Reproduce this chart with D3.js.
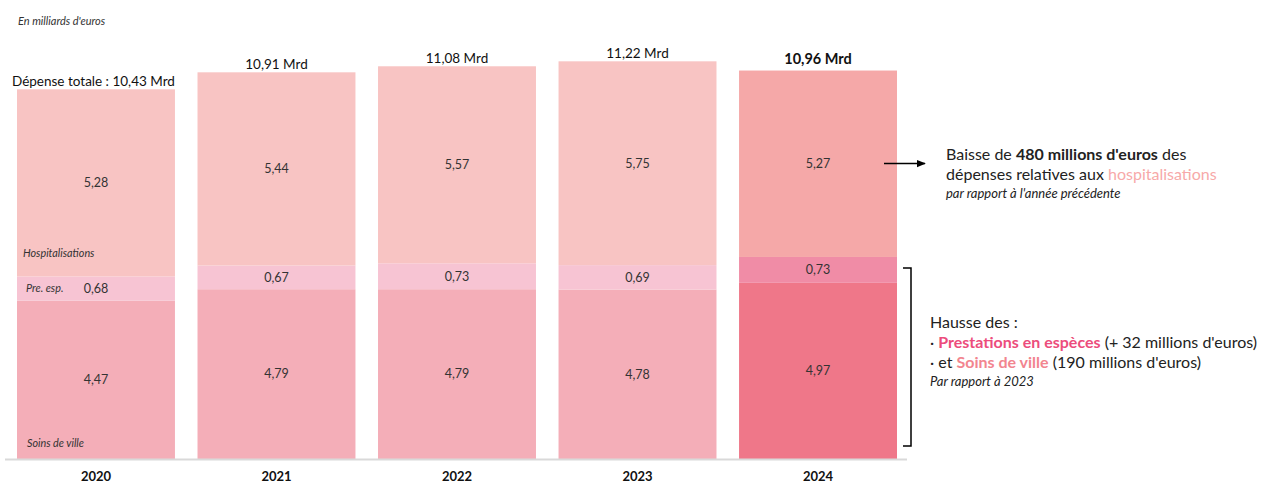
<!DOCTYPE html>
<html>
<head>
<meta charset="utf-8">
<script src="https://cdn.jsdelivr.net/npm/d3@7"></script>
<style>
  body { margin: 0; background: #fff; }
  svg { font-family: Lato, "Open Sans", sans-serif; }
</style>
</head>
<body>
<svg width="1261" height="484"></svg>
<script>
// data, in milliards d'euros
const years = ["2020", "2021", "2022", "2023", "2024"];
const soinsVille = [4.47, 4.79, 4.79, 4.78, 4.97];
const prestEsp = [0.68, 0.67, 0.73, 0.69, 0.73];
const hospit = [5.28, 5.44, 5.57, 5.75, 5.27];
const totals = [10.43, 10.91, 11.08, 11.22, 10.96];

const fr = v => v.toFixed(2).replace(".", ",");

const svg = d3.select("svg");

const x = d3.scaleBand().domain(years).range([17, 897]).paddingInner(0.125).paddingOuter(0);
const y = d3.scaleLinear().domain([0, 12.95]).range([459, 0]);

// couleurs : années normales puis 2024 en plus foncé
const colors = {
  soins: ["#F4AEB8", "#EF7789"],
  prest: ["#F7C4D3", "#F08CA6"],
  hosp: ["#F8C4C3", "#F5A8A8"]
};

const rows = years.map((yr, i) => ({
  year: yr, i: i, last: i === years.length - 1,
  segs: [
    {key: "soins", v0: 0, v1: soinsVille[i], val: soinsVille[i]},
    {key: "prest", v0: soinsVille[i], v1: soinsVille[i] + prestEsp[i], val: prestEsp[i]},
    {key: "hosp", v0: soinsVille[i] + prestEsp[i], v1: totals[i], val: hospit[i]}
  ]
}));

const barG = svg.append("g").selectAll("g")
  .data(rows)
  .join("g")
  .attr("transform", d => `translate(${x(d.year)},0)`);

barG.selectAll("rect")
  .data(d => d.segs.map(s => Object.assign({last: d.last}, s)))
  .join("rect")
  .attr("x", 0)
  .attr("width", x.bandwidth())
  .attr("y", s => y(s.v1))
  .attr("height", s => y(s.v0) - y(s.v1))
  .attr("fill", s => colors[s.key][s.last ? 1 : 0]);

barG.selectAll("text.val")
  .data(d => d.segs)
  .join("text")
  .attr("class", "val")
  .attr("x", x.bandwidth() / 2)
  .attr("y", s => (y(s.v0) + y(s.v1)) / 2)
  .attr("dy", "0.35em")
  .attr("text-anchor", "middle")
  .attr("font-size", 12.5)
  .attr("fill", "#333")
  .text(s => fr(s.val));

// totals above bars
barG.append("text")
  .attr("x", x.bandwidth() / 2)
  .attr("y", d => y(totals[d.i]) - (d.last ? 7 : 3))
  .attr("text-anchor", d => d.i === 0 ? "start" : "middle")
  .attr("dx", d => d.i === 0 ? -x.bandwidth() / 2 - 5 : 0)
  .attr("font-size", d => d.last ? 14.5 : 13.5)
  .attr("font-weight", d => d.last ? "bold" : "normal")
  .attr("fill", "#111")
  .text(d => d.i === 0 ? "Dépense totale : " + fr(totals[d.i]) + " Mrd" : fr(totals[d.i]) + " Mrd");

// axis
svg.append("line")
  .attr("x1", 5).attr("x2", 907)
  .attr("y1", y(0) + 0.5).attr("y2", y(0) + 0.5)
  .attr("stroke", "#d9d9d9").attr("stroke-width", 2);

const xAxis = svg.append("g")
  .attr("transform", `translate(0,${y(0)})`)
  .call(d3.axisBottom(x).tickSize(0).tickPadding(13));
xAxis.select(".domain").remove();
xAxis.selectAll("text")
  .attr("font-family", "Lato, sans-serif")
  .attr("font-size", 13)
  .attr("font-weight", "bold")
  .attr("fill", "#111");

// subtitle
svg.append("text")
  .attr("x", 18).attr("y", 25)
  .attr("font-size", 11).attr("font-style", "italic").attr("fill", "#333")
  .text("En milliards d'euros");

// series labels in the first bar
const x0 = x(years[0]);
const catLabels = [
  {t: "Hospitalisations", dx: 6, v: soinsVille[0] + prestEsp[0] + 0.65},
  {t: "Pre. esp.", dx: 9, v: soinsVille[0] + prestEsp[0] / 2},
  {t: "Soins de ville", dx: 10, v: 0.45}
];
svg.selectAll("text.cat")
  .data(catLabels)
  .join("text")
  .attr("class", "cat")
  .attr("x", d => x0 + d.dx)
  .attr("y", d => y(d.v))
  .attr("dy", "0.35em")
  .attr("font-size", 10.8).attr("font-style", "italic").attr("fill", "#333")
  .text(d => d.t);

// annotation hospitalisations
const lastX = x(years[4]) + x.bandwidth();
const yHosp = y(soinsVille[4] + prestEsp[4] + hospit[4] / 2);
svg.append("defs").append("marker")
  .attr("id", "arr").attr("viewBox", "0 0 10 10")
  .attr("refX", 9).attr("refY", 5)
  .attr("markerWidth", 6).attr("markerHeight", 6)
  .attr("orient", "auto")
  .append("path").attr("d", "M0,1 L10,5 L0,9 z").attr("fill", "#000");
svg.append("line")
  .attr("x1", lastX - 13).attr("x2", lastX + 28)
  .attr("y1", yHosp).attr("y2", yHosp)
  .attr("stroke", "#000").attr("stroke-width", 1.5)
  .attr("marker-end", "url(#arr)");

const t1 = svg.append("text").attr("x", 946).attr("y", 160).attr("font-size", 16).attr("fill", "#222");
t1.append("tspan").text("Baisse de ");
t1.append("tspan").attr("font-weight", "bold").text("480 millions d'euros");
t1.append("tspan").text(" des");
const t2 = svg.append("text").attr("x", 946).attr("y", 180).attr("font-size", 16).attr("fill", "#222");
t2.append("tspan").text("dépenses relatives aux ");
t2.append("tspan").attr("fill", "#F7A9A9").text("hospitalisations");
svg.append("text").attr("x", 946).attr("y", 198)
  .attr("font-size", 13).attr("font-style", "italic").attr("fill", "#222")
  .text("par rapport à l'année précédente");

// bracket
const bTop = y(soinsVille[4] + prestEsp[4]) + 11;
const bBot = y(0) - 13;
svg.append("path")
  .attr("d", `M${lastX + 6},${bTop} H${lastX + 14} V${bBot} H${lastX + 6}`)
  .attr("fill", "none").attr("stroke", "#000").attr("stroke-width", 1.5);

const tx = 930;
svg.append("text").attr("x", tx).attr("y", 328).attr("font-size", 16).attr("fill", "#222").text("Hausse des :");
const t3 = svg.append("text").attr("x", tx).attr("y", 348).attr("font-size", 16).attr("fill", "#222");
t3.append("tspan").text("· ");
t3.append("tspan").attr("font-weight", "bold").attr("fill", "#EC4C7C").text("Prestations en espèces");
t3.append("tspan").text(" (+ 32 millions d'euros)");
const t4 = svg.append("text").attr("x", tx).attr("y", 368).attr("font-size", 16).attr("fill", "#222");
t4.append("tspan").text("· et ");
t4.append("tspan").attr("font-weight", "bold").attr("fill", "#F2858F").text("Soins de ville");
t4.append("tspan").text(" (190 millions d'euros)");
svg.append("text").attr("x", tx).attr("y", 386)
  .attr("font-size", 13).attr("font-style", "italic").attr("fill", "#222")
  .text("Par rapport à 2023");
</script>
</body>
</html>
